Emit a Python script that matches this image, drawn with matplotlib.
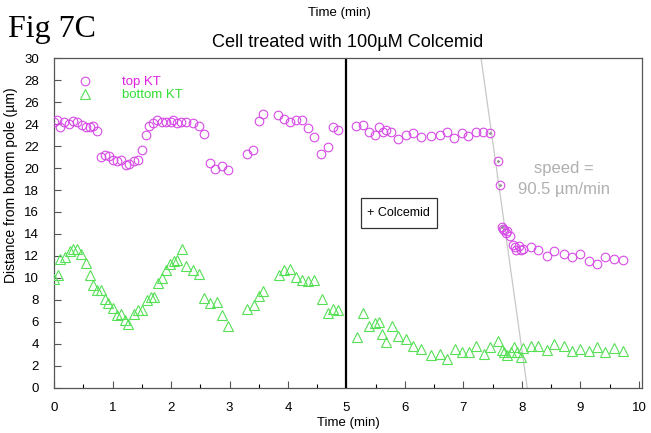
import numpy as np
import matplotlib
matplotlib.use('Agg')
import matplotlib.pyplot as plt
from matplotlib.patches import Rectangle
from matplotlib.ticker import MultipleLocator

plt.rcParams['font.family'] = ['Liberation Sans', 'DejaVu Sans']

# top kinetochore (magenta circles)
top_t = [0.00, 0.05, 0.10, 0.17, 0.26, 0.33, 0.40, 0.47, 0.55, 0.61, 0.67, 0.74,
         0.80, 0.87, 0.94, 1.01, 1.08, 1.15, 1.23, 1.29, 1.37, 1.44, 1.51, 1.57,
         1.62, 1.69, 1.76, 1.84, 1.92, 2.00, 2.04, 2.10, 2.17, 2.26, 2.38, 2.48,
         2.57, 2.67, 2.76, 2.87, 2.97, 3.30, 3.40, 3.50, 3.57, 3.83, 3.94, 4.03,
         4.13, 4.24, 4.35, 4.44, 4.57, 4.68, 4.77, 4.86,
         5.17, 5.28, 5.38, 5.48, 5.55, 5.62, 5.68, 5.76, 5.88, 6.02, 6.14, 6.27,
         6.45, 6.59, 6.71, 6.84, 6.98, 7.07, 7.21, 7.34, 7.45, 7.59, 7.62,
         7.65, 7.67, 7.69, 7.72, 7.75, 7.80, 7.84, 7.88, 7.90, 7.95, 7.98, 8.02,
         8.15, 8.28, 8.42, 8.55, 8.72, 8.85, 8.99, 9.15, 9.29, 9.42, 9.58, 9.72]
top_d = [24.2, 24.4, 23.7, 24.2, 24.0, 24.3, 24.2, 23.9, 23.75, 23.7, 23.8, 23.4,
         21.0, 21.2, 21.1, 20.7, 20.6, 20.7, 20.3, 20.4, 20.6, 20.7, 21.6, 23.0,
         23.8, 24.1, 24.4, 24.2, 24.2, 24.2, 24.4, 24.1, 24.2, 24.15, 24.1, 23.8,
         23.1, 20.5, 19.9, 20.2, 19.8, 21.3, 21.6, 24.3, 24.9, 24.8, 24.45, 24.15,
         24.4, 24.4, 23.6, 22.85, 21.3, 21.9, 23.7, 23.5,
         23.85, 23.9, 23.3, 23.0, 23.7, 23.25, 23.45, 23.25, 22.65, 23.0, 23.15, 22.85,
         22.95, 23.0, 23.3, 22.75, 23.15, 22.95, 23.3, 23.25, 23.15, 20.6, 18.5,
         14.6, 14.45, 14.4, 14.1, 14.3, 13.8, 13.0, 12.8, 12.5, 12.9, 12.5, 12.65,
         12.8, 12.5, 12.0, 12.45, 12.2, 11.9, 12.2, 11.55, 11.3, 11.9, 11.75, 11.65]

# bottom kinetochore (green triangles)
bot_t = [0.00, 0.06, 0.10, 0.19, 0.27, 0.33, 0.40, 0.46, 0.54, 0.61, 0.66, 0.73,
         0.80, 0.87, 0.93, 1.00, 1.07, 1.14, 1.21, 1.27, 1.37, 1.44, 1.51, 1.59,
         1.65, 1.71, 1.78, 1.85, 1.91, 1.98, 2.05, 2.10, 2.18, 2.26, 2.38, 2.47,
         2.57, 2.66, 2.78, 2.87, 2.98, 3.30, 3.42, 3.51, 3.58, 3.84, 3.94, 4.04,
         4.14, 4.24, 4.35, 4.44, 4.58, 4.68, 4.77, 4.86,
         5.18, 5.28, 5.38, 5.48, 5.55, 5.61, 5.68, 5.78, 5.88, 6.02, 6.14, 6.28,
         6.45, 6.59, 6.71, 6.85, 6.98, 7.09, 7.21, 7.35, 7.45, 7.59, 7.65, 7.70,
         7.75, 7.81, 7.86, 7.92, 7.98, 8.02, 8.15, 8.28, 8.42, 8.55, 8.72, 8.85,
         8.99, 9.15, 9.29, 9.42, 9.58, 9.72]
bot_d = [9.95, 10.3, 11.7, 11.9, 12.45, 12.65, 12.65, 12.2, 11.35, 10.3, 9.35, 8.9,
         8.95, 8.05, 7.7, 7.3, 6.6, 6.7, 6.15, 5.85, 6.7, 7.05, 7.05, 8.0,
         8.3, 8.3, 9.5, 10.0, 10.75, 11.25, 11.55, 11.6, 12.65, 11.05, 10.75, 10.35,
         8.15, 7.7, 7.85, 6.6, 5.6, 7.15, 7.5, 8.35, 8.8, 10.25, 10.7, 10.85,
         10.1, 9.8, 9.75, 9.85, 8.05, 6.85, 7.2, 7.05,
         4.6, 6.85, 5.6, 5.9, 6.0, 4.95, 4.15, 5.6, 4.7, 4.45, 3.85, 3.5,
         3.0, 3.1, 2.6, 3.5, 3.25, 3.25, 3.8, 3.1, 3.75, 4.3, 3.45, 3.3,
         3.0, 3.3, 3.75, 3.3, 2.85, 3.6, 3.8, 3.8, 3.45, 4.0, 3.8, 3.4,
         3.5, 3.4, 3.7, 3.3, 3.6, 3.4]

# speed fit through the fast poleward jump, and the points it used
fit_t = [7.30, 8.09]
fit_d = [30.0, 0.0]
fit_pts_t = [7.45, 7.59, 7.62, 7.65]
fit_pts_d = [23.15, 20.6, 18.5, 14.6]

colcemid_t = 5.0
box_xy, box_w, box_h = (5.24, 14.5), 1.30, 2.8

magenta = '#d64be6'
green = '#55e055'

fig = plt.figure(figsize=(6.51, 4.33), dpi=100)
ax = fig.add_axes([0.083, 0.104, 0.903, 0.762])

ax.plot(fit_t, fit_d, color='#c8c8c8', lw=0.9, zorder=1)
ax.axvline(colcemid_t, color='black', lw=1.6, zorder=2)

ax.plot(top_t, top_d, 'o', ms=6.2, mfc='none', mec=magenta, mew=0.8, ls='none',
        label='top KT', zorder=3)
ax.plot(bot_t, bot_d, '^', ms=7, mfc='none', mec=green, mew=0.8, ls='none',
        label='bottom KT', zorder=3)
ax.plot(fit_pts_t, fit_pts_d, '.', ms=2, color='#909090', ls='none', zorder=4)

ax.add_patch(Rectangle(box_xy, box_w, box_h, fill=False, ec='#333333', lw=0.9, zorder=5))
ax.text(box_xy[0] + box_w / 2, box_xy[1] + box_h / 2, '+ Colcemid', ha='center',
        va='center', fontsize=9, zorder=6)

ax.text(8.72, 19.0, 'speed =\n90.5 µm/min', ha='center', va='center', fontsize=12,
        color='#b0b0b0', linespacing=1.5)

ax.set_xlim(0, 10.05)
ax.set_ylim(0, 30)
ax.xaxis.set_major_locator(MultipleLocator(1))
ax.xaxis.set_minor_locator(MultipleLocator(0.5))
ax.yaxis.set_major_locator(MultipleLocator(2))
ax.tick_params(direction='in', labelsize=9.5, length=5, width=0.8, color='#555555')
ax.tick_params(axis='x', which='minor', direction='in', length=3, width=0.8)
ax.tick_params(axis='x', pad=10)
ax.tick_params(axis='y', pad=11)
for s in ax.spines.values():
    s.set_color('#555555')
    s.set_linewidth(0.9)

ax.set_xlabel('Time (min)', fontsize=9.5, labelpad=2)
ax.set_ylabel('Distance from bottom pole (µm)', fontsize=10)
ax.yaxis.set_label_coords(-0.062, 0.615)
ax.set_title('Cell treated with 100µM Colcemid', fontsize=13.1, pad=8)

leg = ax.legend(loc='upper left', bbox_to_anchor=(0.03, 0.945), frameon=False,
                fontsize=9.5, handletextpad=1.8, labelspacing=0.05, borderpad=0,
                borderaxespad=0, handlelength=2)
for txt, c in zip(leg.get_texts(), ['#e020e0', '#33dd33']):
    txt.set_color(c)

fig.text(0.012, 0.965, 'Fig 7C', family='Liberation Serif', fontsize=23, va='top')
fig.text(0.522, 0.97, 'Time (min)', fontsize=9.5, ha='center', va='center')

fig.savefig('out.png', dpi=100)
